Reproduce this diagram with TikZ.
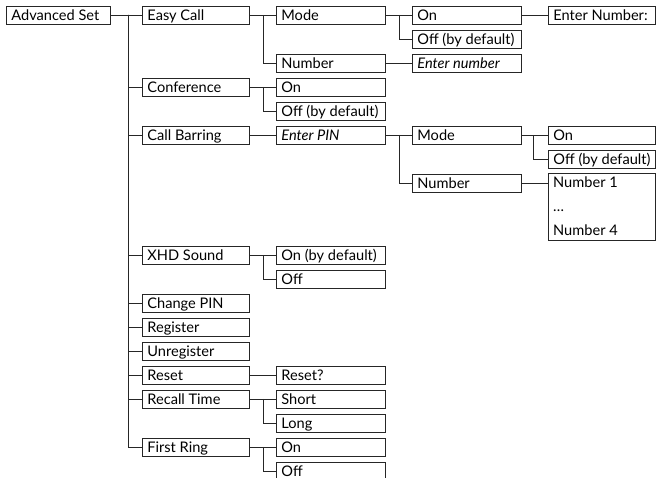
\documentclass[tikz,border=0pt]{standalone}
\usepackage{fontspec}
\setmainfont{Lato}
\begin{document}
\begin{tikzpicture}[x=1pt,y=-1pt,
  font=\fontsize{14.6}{24}\selectfont,
  box/.style={draw=black!85, line width=0.8pt, rectangle, anchor=west,
    minimum height=18pt, inner xsep=5pt, inner ysep=0pt,
    text height=13pt, text depth=2pt},
  c0/.style={box, execute at begin node={\hbox to 94pt\bgroup}, execute at end node={\hss\egroup}},
  c1/.style={box, execute at begin node={\hbox to 97pt\bgroup}, execute at end node={\hss\egroup}},
  c2/.style={box, execute at begin node={\hbox to 99pt\bgroup}, execute at end node={\hss\egroup}},
  c3/.style={box, execute at begin node={\hbox to 99pt\bgroup}, execute at end node={\hss\egroup}},
  c4/.style={box, execute at begin node={\hbox to 97pt\bgroup}, execute at end node={\hss\egroup}},
  link/.style={draw=black!85, line width=0.8pt}]
\useasboundingbox (0,0) rectangle (657,478);
% column 0 and 1
\node[c0] (as) at (6,15) {Advanced Set};
\node[c1] (ec) at (142,15) {Easy Call};
\node[c1] (conf) at (142,87) {Conference};
\node[c1] (cb) at (142,135) {Call Barring};
\node[c1] (xhd) at (142,255) {XHD Sound};
\node[c1] (cpin) at (142,303) {Change PIN};
\node[c1] (reg) at (142,327) {Register};
\node[c1] (unreg) at (142,351) {Unregister};
\node[c1] (reset) at (142,375) {Reset};
\node[c1] (recall) at (142,399) {Recall Time};
\node[c1] (fring) at (142,447) {First Ring};
% column 2
\node[c2] (ecmode) at (276,15) {Mode};
\node[c2] (ecnum) at (276,63) {Number};
\node[c2] (confon) at (276,87) {On};
\node[c2] (confoff) at (276,111) {Off (by default)};
\node[c2] (pin) at (276,135) {\itshape Enter PIN};
\node[c2] (xhdon) at (276,255) {On (by default)};
\node[c2] (xhdoff) at (276,279) {Off};
\node[c2] (reseta) at (276,375) {Reset?};
\node[c2] (short) at (276,399) {Short};
\node[c2] (long) at (276,423) {Long};
\node[c2] (fron) at (276,447) {On};
\node[c2] (froff) at (276,471) {Off};
% column 3
\node[c3] (econ) at (412,15) {On};
\node[c3] (ecoff) at (412,39) {Off (by default)};
\node[c3] (ecentnum) at (412,63) {\itshape Enter number};
\node[c3] (cbmode) at (412,135) {Mode};
\node[c3] (cbnum) at (412,183) {Number};
% column 4
\node[c4] (enternum) at (548,15) {Enter Number:};
\node[c4] (cbon) at (548,135) {On};
\node[c4] (cboff) at (548,159) {Off (by default)};
\node[draw=black!85, line width=0.8pt, rectangle, anchor=north west,
  minimum width=107pt, minimum height=67pt] (nlist) at (548,173) {};
\node[anchor=base west, inner sep=0pt] (n1) at (553,188) {Number 1};
\node[anchor=base west, inner sep=0pt] (ndots) at (553,212) {\dots};
\node[anchor=base west, inner sep=0pt] (n4) at (553,236) {Number 4};
% branch points
\coordinate (t) at (128,15);
\coordinate (b1) at (263,15);
\coordinate (b2) at (399,15);
\coordinate (b3) at (263,87);
\coordinate (b4) at (399,135);
\coordinate (b5) at (533,135);
\coordinate (b6) at (263,255);
\coordinate (b7) at (263,399);
\coordinate (b8) at (263,447);
% connectors
\draw[link] (as.east) -- (ec.west);
\foreach \n in {conf,cb,xhd,cpin,reg,unreg,reset,recall,fring}
  \draw[link] (t) |- (\n.west);
\draw[link] (ec.east) -- (ecmode.west);
\draw[link] (b1) |- (ecnum.west);
\draw[link] (ecmode.east) -- (econ.west);
\draw[link] (b2) |- (ecoff.west);
\draw[link] (econ.east) -- (enternum.west);
\draw[link] (ecnum.east) -- (ecentnum.west);
\draw[link] (conf.east) -- (confon.west);
\draw[link] (b3) |- (confoff.west);
\draw[link] (cb.east) -- (pin.west);
\draw[link] (pin.east) -- (cbmode.west);
\draw[link] (b4) |- (cbnum.west);
\draw[link] (cbmode.east) -- (cbon.west);
\draw[link] (b5) |- (cboff.west);
\draw[link] (cbnum.east) -- (cbnum.east -| nlist.west);
\draw[link] (xhd.east) -- (xhdon.west);
\draw[link] (b6) |- (xhdoff.west);
\draw[link] (reset.east) -- (reseta.west);
\draw[link] (recall.east) -- (short.west);
\draw[link] (b7) |- (long.west);
\draw[link] (fring.east) -- (fron.west);
\draw[link] (b8) |- (froff.west);
\end{tikzpicture}
\end{document}
